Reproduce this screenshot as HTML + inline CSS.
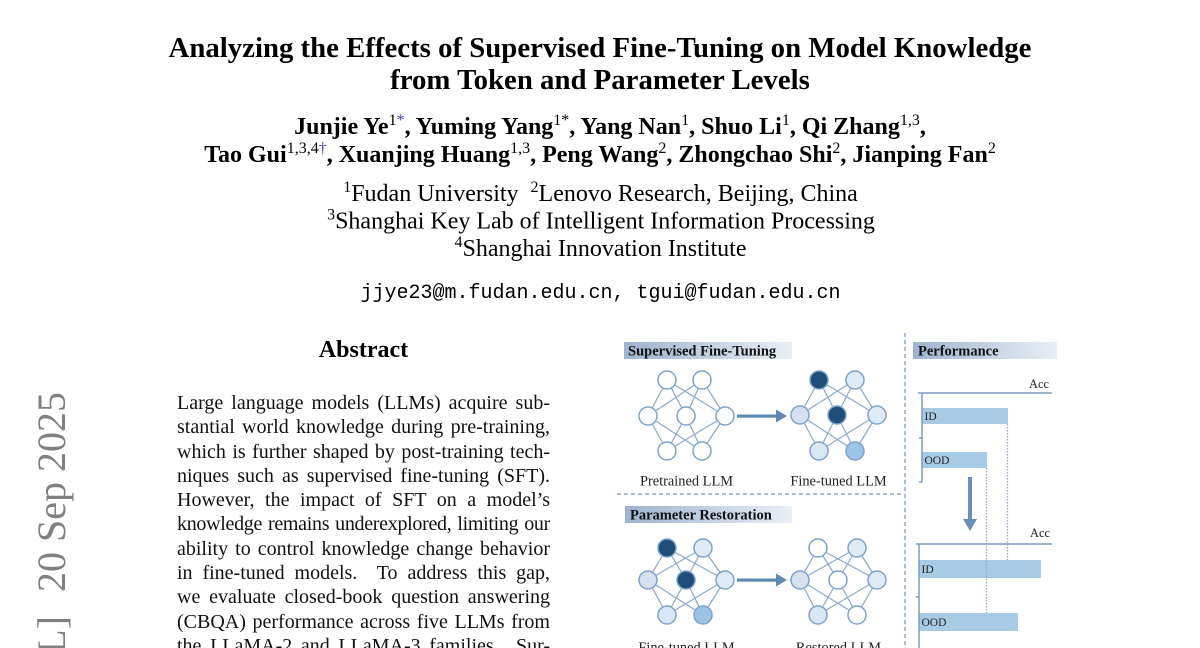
<!DOCTYPE html>
<html>
<head>
<meta charset="utf-8">
<style>
html,body{margin:0;padding:0;background:#fff;}
body{width:1200px;height:648px;overflow:hidden;position:relative;font-family:"Liberation Serif",serif;color:#000;}
svg{position:absolute;left:0;top:0;}
#abs{position:absolute;left:177px;top:391px;width:373px;height:257px;overflow:hidden;font-family:"Liberation Serif",serif;font-size:20px;line-height:24.3px;color:#111;}
#abs div{height:24.3px;text-align:justify;text-align-last:justify;white-space:nowrap;overflow:visible;}
#abs div.t{letter-spacing:-0.3px;}
</style>
</head>
<body>
<svg width="1200" height="648" viewBox="0 0 1200 648" xmlns="http://www.w3.org/2000/svg">
  <defs>
    <linearGradient id="lg" x1="0" y1="0" x2="1" y2="0">
      <stop offset="0" stop-color="#9fb3cf"/>
      <stop offset="1" stop-color="#eaeff6"/>
    </linearGradient>
  </defs>

  <!-- arXiv stamp -->
  <g font-family="Liberation Serif, serif" font-size="40" fill="#808080">
    <text transform="translate(65,592) rotate(-90)">20 Sep 2025</text>
    <text transform="translate(65,616) rotate(-90)" text-anchor="end">arXiv:2509.16596v1  [cs.CL]</text>
  </g>

  <!-- Title -->
  <g font-family="Liberation Serif, serif" font-weight="bold" font-size="28.8" text-anchor="middle" fill="#000">
    <text x="600" y="57">Analyzing the Effects of Supervised Fine-Tuning on Model Knowledge</text>
    <text x="600" y="89">from Token and Parameter Levels</text>
  </g>

  <!-- Authors -->
  <g font-family="Liberation Serif, serif" font-weight="bold" font-size="24" text-anchor="middle" fill="#000">
    <text x="610" y="134">Junjie Ye<tspan font-size="16" font-weight="normal" dy="-9">1</tspan><tspan font-size="16" font-weight="normal" fill="#3a3ad0">*</tspan><tspan dy="9">, Yuming Yang</tspan><tspan font-size="16" font-weight="normal" dy="-9">1*</tspan><tspan dy="9">, Yang Nan</tspan><tspan font-size="16" font-weight="normal" dy="-9">1</tspan><tspan dy="9">, Shuo Li</tspan><tspan font-size="16" font-weight="normal" dy="-9">1</tspan><tspan dy="9">, Qi Zhang</tspan><tspan font-size="16" font-weight="normal" dy="-9">1,3</tspan><tspan dy="9">,</tspan></text>
    <text x="600" y="162">Tao Gui<tspan font-size="16" font-weight="normal" dy="-9">1,3,4</tspan><tspan font-size="16" font-weight="normal" fill="#3a3ad0">†</tspan><tspan dy="9">, Xuanjing Huang</tspan><tspan font-size="16" font-weight="normal" dy="-9">1,3</tspan><tspan dy="9">, Peng Wang</tspan><tspan font-size="16" font-weight="normal" dy="-9">2</tspan><tspan dy="9">, Zhongchao Shi</tspan><tspan font-size="16" font-weight="normal" dy="-9">2</tspan><tspan dy="9">, Jianping Fan</tspan><tspan font-size="16" font-weight="normal" dy="-9">2</tspan></text>
  </g>

  <!-- Affiliations -->
  <g font-family="Liberation Serif, serif" font-size="24" text-anchor="middle" fill="#000">
    <text x="600.5" y="201"><tspan font-size="16" dy="-9">1</tspan><tspan dy="9">Fudan University</tspan><tspan font-size="16" dy="-9" dx="12">2</tspan><tspan dy="9">Lenovo Research, Beijing, China</tspan></text>
    <text x="601" y="228.5"><tspan font-size="16" dy="-9">3</tspan><tspan dy="9">Shanghai Key Lab of Intelligent Information Processing</tspan></text>
    <text x="600.5" y="256"><tspan font-size="16" dy="-9">4</tspan><tspan dy="9">Shanghai Innovation Institute</tspan></text>
  </g>
  <text x="600.5" y="298" font-family="Liberation Mono, monospace" font-size="20" text-anchor="middle" fill="#000">jjye23@m.fudan.edu.cn, tgui@fudan.edu.cn</text>

  <!-- Abstract heading -->
  <text x="363.5" y="357" font-family="Liberation Serif, serif" font-weight="bold" font-size="24" text-anchor="middle" fill="#000">Abstract</text>

  <!-- ===== Figure ===== -->
  <line x1="905" y1="333" x2="905" y2="648" stroke="#8eaad0" stroke-width="1.5" stroke-dasharray="4,3"/>
  <line x1="617" y1="494" x2="903" y2="494" stroke="#8eaad0" stroke-width="1.5" stroke-dasharray="4,3"/>

  <rect x="624" y="342" width="168" height="17" fill="url(#lg)"/>
  <text x="628" y="355.5" font-family="Liberation Serif, serif" font-weight="bold" font-size="14.5" fill="#111">Supervised Fine-Tuning</text>
  <rect x="913" y="342" width="144" height="17" fill="url(#lg)"/>
  <text x="918" y="355.5" font-family="Liberation Serif, serif" font-weight="bold" font-size="14.5" fill="#111">Performance</text>
  <rect x="625" y="506" width="167" height="17" fill="url(#lg)"/>
  <text x="630" y="519.5" font-family="Liberation Serif, serif" font-weight="bold" font-size="14.5" fill="#111">Parameter Restoration</text>

  <g stroke="#8aa9cc" stroke-width="1.2" fill="none">
    <path d="M667,380L648,416M667,380L686,416M667,380L725,416M702,380L648,416M702,380L686,416M702,380L725,416
             M648,416L667,451M648,416L702,451M686,416L667,451M686,416L702,451M725,416L667,451M725,416L702,451"/>
    <path d="M819,380L800,415M819,380L837,415M819,380L877,415M855,380L800,415M855,380L837,415M855,380L877,415
             M800,415L819,451M800,415L855,451M837,415L819,451M837,415L855,451M877,415L819,451M877,415L855,451"/>
    <path d="M667,548L648,580M667,548L686,580M667,548L725,580M703,548L648,580M703,548L686,580M703,548L725,580
             M648,580L667,615M648,580L703,615M686,580L667,615M686,580L703,615M725,580L667,615M725,580L703,615"/>
    <path d="M818,548L800,580M818,548L838,580M818,548L877,580M857,548L800,580M857,548L838,580M857,548L877,580
             M800,580L818,615M800,580L857,615M838,580L818,615M838,580L857,615M877,580L818,615M877,580L857,615"/>
  </g>

  <g stroke="#7ea3cb" stroke-width="1.5">
    <circle cx="667" cy="380" r="9" fill="#fff"/>
    <circle cx="702" cy="380" r="9" fill="#fff"/>
    <circle cx="648" cy="416" r="9" fill="#fff"/>
    <circle cx="686" cy="416" r="9" fill="#fff"/>
    <circle cx="725" cy="416" r="9" fill="#fff"/>
    <circle cx="667" cy="451" r="9" fill="#fff"/>
    <circle cx="702" cy="451" r="9" fill="#fff"/>
    <circle cx="819" cy="380" r="9" fill="#1f4e79"/>
    <circle cx="855" cy="380" r="9" fill="#deeaf6"/>
    <circle cx="800" cy="415" r="9" fill="#d5e0f1"/>
    <circle cx="837" cy="415" r="9" fill="#1f4e79"/>
    <circle cx="877" cy="415" r="9" fill="#deeaf6"/>
    <circle cx="819" cy="451" r="9" fill="#d9e7f5"/>
    <circle cx="855" cy="451" r="9" fill="#9dc3e6"/>
    <circle cx="667" cy="548" r="9" fill="#1f4e79"/>
    <circle cx="703" cy="548" r="9" fill="#deeaf6"/>
    <circle cx="648" cy="580" r="9" fill="#d5e0f1"/>
    <circle cx="686" cy="580" r="9" fill="#1f4e79"/>
    <circle cx="725" cy="580" r="9" fill="#deeaf6"/>
    <circle cx="667" cy="615" r="9" fill="#d9e7f5"/>
    <circle cx="703" cy="615" r="9" fill="#9dc3e6"/>
    <circle cx="818" cy="548" r="9" fill="#fff"/>
    <circle cx="857" cy="548" r="9" fill="#deeaf6"/>
    <circle cx="800" cy="580" r="9" fill="#d5e0f1"/>
    <circle cx="838" cy="580" r="9" fill="#fff"/>
    <circle cx="877" cy="580" r="9" fill="#deeaf6"/>
    <circle cx="818" cy="615" r="9" fill="#d9e7f5"/>
    <circle cx="857" cy="615" r="9" fill="#fff"/>
  </g>

  <g fill="#5f88b3" stroke="none">
    <rect x="737" y="414.5" width="40" height="3.2"/>
    <polygon points="776,409.5 787,416 776,422.5"/>
    <rect x="737" y="578.5" width="40" height="3.2"/>
    <polygon points="776,573.5 787,580 776,586.5"/>
  </g>

  <g font-family="Liberation Serif, serif" font-size="14.4" fill="#222" text-anchor="middle">
    <text x="686.5" y="485.5">Pretrained LLM</text>
    <text x="838.5" y="485.5">Fine-tuned LLM</text>
    <text x="686.5" y="652">Fine-tuned LLM</text>
    <text x="838.5" y="652">Restored LLM</text>
  </g>

  <g font-family="Liberation Serif, serif" fill="#222">
    <text x="1049" y="388" font-size="12.4" text-anchor="end">Acc</text>
    <text x="1050" y="537" font-size="12.4" text-anchor="end">Acc</text>
  </g>
  <g fill="#a8cbe5">
    <rect x="922" y="408" width="86" height="16"/>
    <rect x="922" y="452" width="65" height="16"/>
    <rect x="919" y="560" width="122" height="18"/>
    <rect x="919" y="613" width="99" height="18"/>
  </g>
  <g font-family="Liberation Serif, serif" font-size="11.5" fill="#222">
    <text x="924.5" y="420">ID</text>
    <text x="924.5" y="464">OOD</text>
    <text x="921.5" y="573">ID</text>
    <text x="921.5" y="626">OOD</text>
  </g>
  <g stroke="#7d9cc2" stroke-width="1.5" fill="none">
    <line x1="918" y1="393" x2="1052" y2="393"/>
    <line x1="922" y1="393" x2="922" y2="482"/>
    <line x1="919" y1="438" x2="922" y2="438"/>
    <line x1="919" y1="482" x2="922" y2="482"/>
    <line x1="916" y1="544" x2="1052" y2="544"/>
    <line x1="919" y1="544" x2="919" y2="648"/>
    <line x1="916" y1="597" x2="919" y2="597"/>
  </g>
  <g stroke="#8eaad0" stroke-width="1.3" stroke-dasharray="1.5,1.5" fill="none">
    <line x1="1007.5" y1="424" x2="1007.5" y2="560"/>
    <line x1="986.5" y1="468" x2="986.5" y2="613"/>
  </g>
  <g fill="#6b8fb8">
    <rect x="968" y="477" width="4" height="44"/>
    <polygon points="963,519 977,519 970,531"/>
  </g>
</svg>

<div id="abs">
  <div>Large language models (LLMs) acquire sub-</div>
  <div>stantial world knowledge during pre-training,</div>
  <div>which is further shaped by post-training tech-</div>
  <div>niques such as supervised fine-tuning (SFT).</div>
  <div>However, the impact of SFT on a model’s</div>
  <div class="t">knowledge remains underexplored, limiting our</div>
  <div>ability to control knowledge change behavior</div>
  <div>in fine-tuned models.&nbsp; To address this gap,</div>
  <div>we evaluate closed-book question answering</div>
  <div>(CBQA) performance across five LLMs from</div>
  <div>the LLaMA-2 and LLaMA-3 families.&nbsp; Sur-</div>
</div>
</body>
</html>
